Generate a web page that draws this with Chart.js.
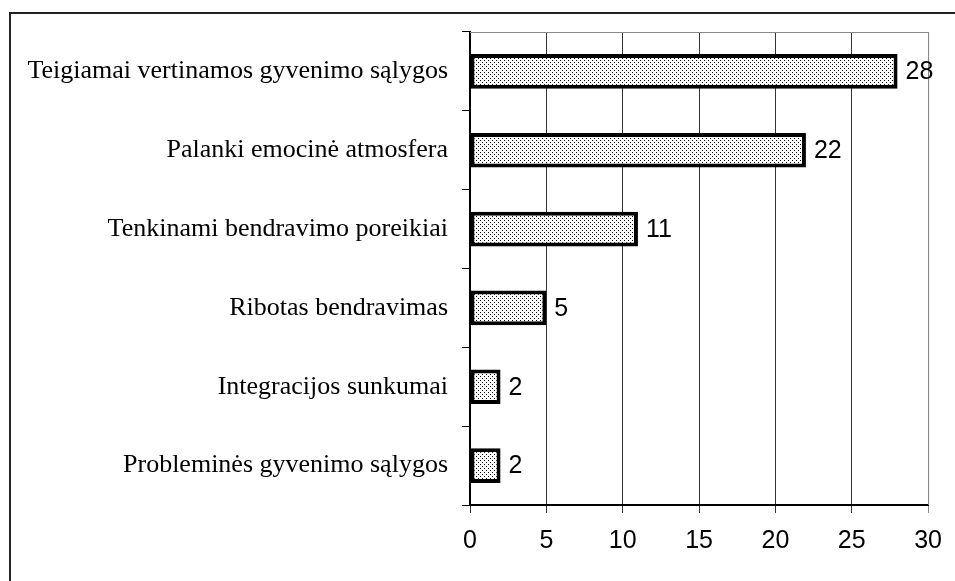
<!DOCTYPE html>
<html>
<head>
<meta charset="utf-8">
<script src="https://cdn.jsdelivr.net/npm/chart.js@4/dist/chart.umd.min.js"></script>
<style>
  html, body { margin: 0; padding: 0; background: #fff; }
  #wrap { width: 955px; height: 581px; }
</style>
</head>
<body>
<div id="wrap"><canvas id="chart" width="955" height="581"></canvas></div>
<script>
// duomenys
const categories = [
  "Teigiamai vertinamos gyvenimo sąlygos",
  "Palanki emocinė atmosfera",
  "Tenkinami bendravimo poreikiai",
  "Ribotas bendravimas",
  "Integracijos sunkumai",
  "Probleminės gyvenimo sąlygos"
]
const values = [28, 22, 11, 5, 2, 2]
const xTicks = [0, 5, 10, 15, 20, 25, 30]

// taškuotas užpildas (kaip Excel pattern)
function makeDots() {
  const c = document.createElement("canvas")
  c.width = 4
  c.height = 4
  const g = c.getContext("2d")
  g.fillStyle = "#fff"
  g.fillRect(0, 0, 4, 4)
  g.fillStyle = "#000"
  g.fillRect(0, 0, 1, 1)
  g.fillRect(2, 2, 1, 1)
  return g.createPattern(c, "repeat")
}

// rėmelis + pilkas plot area kraštas + reikšmės
const extras = {
  id: "extras",
  beforeDraw(chart) {
    const ctx = chart.ctx
    ctx.save()
    ctx.strokeStyle = "#222"
    ctx.lineWidth = 2
    ctx.strokeRect(10, 13, 1000, 1000)
    ctx.restore()
  },
  afterDatasetsDraw(chart) {
    const ctx = chart.ctx
    const a = chart.chartArea
    ctx.save()
    ctx.strokeStyle = "#888"
    ctx.lineWidth = 1
    ctx.beginPath()
    ctx.moveTo(a.left, a.top + 0.5)
    ctx.lineTo(a.right + 0.5, a.top + 0.5)
    ctx.lineTo(a.right + 0.5, a.bottom)
    ctx.stroke()
    ctx.fillStyle = "#000"
    ctx.font = "25px 'Liberation Sans', Arial, sans-serif"
    ctx.textBaseline = "middle"
    chart.getDatasetMeta(0).data.forEach((bar, i) => {
      ctx.fillText(String(values[i]), bar.x + 8, bar.y + 1)
    })
    ctx.restore()
  }
}

new Chart(document.getElementById("chart"), {
  type: "bar",
  data: {
    labels: categories,
    datasets: [{
      data: values,
      backgroundColor: makeDots(),
      borderColor: "#000",
      borderWidth: 4,
      borderSkipped: false,
      barPercentage: 0.44,
      categoryPercentage: 1
    }]
  },
  options: {
    indexAxis: "y",
    responsive: false,
    animation: false,
    layout: { padding: { top: 32, right: 26, left: 0, bottom: 0 } },
    plugins: { legend: { display: false }, tooltip: { enabled: false } },
    scales: {
      x: {
        min: 0,
        max: 30,
        afterBuildTicks: (s) => { s.ticks = xTicks.map(v => ({ value: v })) },
        afterFit: (s) => { s.height = 76 },
        grid: {
          color: (c) => (c.tick && c.tick.value === 30 ? "#888" : "#333"),
          lineWidth: 1,
          tickLength: 8,
          drawOnChartArea: true
        },
        border: { color: "#000", width: 2 },
        ticks: {
          color: "#000",
          padding: 13,
          font: { family: "'Liberation Sans', Arial, sans-serif", size: 25 }
        }
      },
      y: {
        afterFit: (s) => { s.width = 470 },
        grid: {
          offset: true,
          drawOnChartArea: false,
          color: "#000",
          tickLength: 8
        },
        border: { color: "#000", width: 2 },
        ticks: {
          color: "#000",
          padding: 14,
          font: { family: "'Liberation Serif', 'Times New Roman', serif", size: 26 }
        }
      }
    }
  },
  plugins: [extras]
})
</script>
</body>
</html>
